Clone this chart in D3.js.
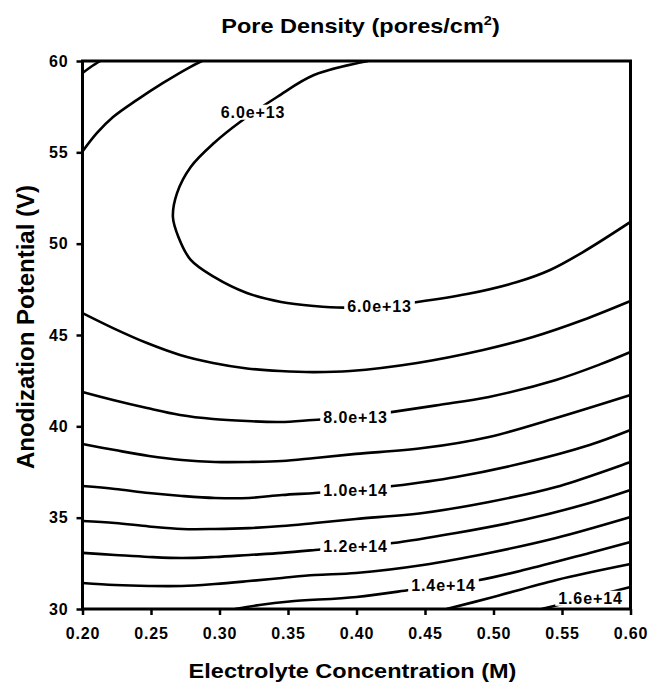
<!DOCTYPE html>
<html lang="en">
<head>
<meta charset="UTF-8">
<title>Pore Density</title>
<script src="https://cdn.jsdelivr.net/npm/d3@7"></script>
<style>
	body { margin: 0; background: #fff; }
	text { font-family: "Liberation Sans", Arial, sans-serif; font-weight: bold; fill: #000; }
</style>
</head>
<body>
<svg id="chart" width="650" height="683"></svg>
<script>
// axis ticks
const xTicks = [0.20, 0.25, 0.30, 0.35, 0.40, 0.45, 0.50, 0.55, 0.60];
const yTicks = [30, 35, 40, 45, 50, 55, 60];

// contour lines: [concentration (M), potential (V)]
const c40e12 = [[0.2, 59.34], [0.206, 59.67], [0.213, 60]];
const c50e12 = [[0.2, 55.05], [0.2106, 56.06], [0.2223, 56.93], [0.2398, 57.87], [0.2588, 58.80], [0.2785, 59.67], [0.2872, 60]];
const c60e12 = [[0.4085, 60], [0.369, 59.23], [0.342, 58.03], [0.315, 56.66], [0.296, 55.51], [0.279, 54.20], [0.269, 52.77],
	[0.266, 51.46], [0.270, 50.37], [0.279, 49.11], [0.296, 48.18], [0.320, 47.30], [0.345, 46.81], [0.369, 46.59],
	[0.391, 46.50], [0.418, 46.58], [0.4445, 46.81], [0.4807, 47.24], [0.5172, 47.90], [0.5413, 48.56], [0.5653, 49.54], [0.6, 51.19]];
const c70e12 = [[0.2, 46.20], [0.2223, 45.38], [0.2471, 44.56], [0.2712, 43.91], [0.2953, 43.47], [0.3201, 43.17], [0.3442, 43.03],
	[0.3683, 42.97], [0.3953, 43.03], [0.4442, 43.47], [0.4924, 44.18], [0.5288, 44.89], [0.5653, 45.82], [0.6, 46.86]];
const c80e12 = [[0.2, 41.88], [0.2223, 41.44], [0.2471, 41.00], [0.2712, 40.62], [0.2953, 40.40], [0.3201, 40.29], [0.3442, 40.24],
	[0.3683, 40.35], [0.399, 40.51], [0.4266, 40.79], [0.4602, 41.17], [0.4967, 41.61], [0.5456, 42.54], [0.5777, 43.39], [0.6, 44.07]];
const c90e12 = [[0.2, 39.03], [0.2237, 38.70], [0.2485, 38.38], [0.2726, 38.16], [0.2967, 38.05], [0.3215, 38.05], [0.3456, 38.10],
	[0.3697, 38.27], [0.3996, 38.49], [0.4485, 38.81], [0.4967, 39.42], [0.5456, 40.46], [0.6, 41.72]];
const c100e12 = [[0.2, 36.73], [0.2237, 36.57], [0.2485, 36.35], [0.2726, 36.19], [0.2967, 36.08], [0.3215, 36.08], [0.3456, 36.24],
	[0.3697, 36.35], [0.3993, 36.51], [0.4266, 36.73], [0.4726, 37.23], [0.5215, 37.99], [0.5701, 38.98], [0.6, 39.80]];
const c110e12 = [[0.2, 34.82], [0.2237, 34.71], [0.2485, 34.52], [0.2726, 34.38], [0.2967, 34.38], [0.3215, 34.43], [0.3456, 34.54],
	[0.3697, 34.71], [0.3996, 34.93], [0.4485, 35.26], [0.4967, 35.86], [0.5456, 36.68], [0.6, 38.05]];
const c120e12 = [[0.2, 33.07], [0.2237, 32.96], [0.2485, 32.85], [0.2726, 32.79], [0.2967, 32.85], [0.3215, 32.96], [0.3456, 33.07],
	[0.3697, 33.23], [0.3993, 33.45], [0.4266, 33.61], [0.4726, 34.16], [0.5215, 34.87], [0.5701, 35.80], [0.6, 36.51]];
const c130e12 = [[0.2, 31.42], [0.2237, 31.31], [0.2485, 31.26], [0.2726, 31.26], [0.2967, 31.37], [0.3215, 31.53], [0.3456, 31.70],
	[0.3697, 31.86], [0.3996, 31.97], [0.4485, 32.41], [0.4967, 33.07], [0.5456, 33.89], [0.6, 35.04]];
const c140e12 = [[0.3113, 30.0], [0.3292, 30.22], [0.3511, 30.41], [0.4000, 30.66], [0.4387, 31.04], [0.4635, 31.31],
	[0.4898, 31.59], [0.5219, 32.13], [0.5701, 33.07], [0.6, 33.67]];
const c150e12 = [[0.4657, 30.0], [0.4971, 30.60], [0.5460, 31.59], [0.6, 32.46]];
const c160e12 = [[0.535, 30.0], [0.567, 30.58], [0.6, 31.2]];

const contourLines = [c40e12, c50e12, c60e12, c70e12, c80e12, c90e12, c100e12, c110e12, c120e12, c130e12, c140e12, c150e12, c160e12];

// inline level labels
const labelText = ["6.0e+13", "6.0e+13", "8.0e+13", "1.0e+14", "1.2e+14", "1.4e+14", "1.6e+14"];
const labelX = [0.3245, 0.4168, 0.3993, 0.3993, 0.3993, 0.4635, 0.5708];
const labelY = [57.21, 46.59, 40.51, 36.51, 33.45, 31.31, 30.60];

const plotLeft = 82.5, plotTop = 61, plotW = 548, plotH = 548;
const stretch = 1.12; // the original lettering is a little wide

const svg = d3.select("#chart");
const x = d3.scaleLinear().domain([0.2, 0.6]).range([plotLeft, plotLeft + plotW]);
const y = d3.scaleLinear().domain([30, 60]).range([plotTop + plotH, plotTop]);

svg.append("clipPath").attr("id", "plotClip")
	.append("rect").attr("x", plotLeft).attr("y", plotTop).attr("width", plotW).attr("height", plotH);

const line = d3.line()
	.x(d => x(d[0]))
	.y(d => y(d[1]))
	.curve(d3.curveCatmullRom.alpha(0.5));

const plot = svg.append("g").attr("clip-path", "url(#plotClip)");
plot.selectAll("path.contour")
	.data(contourLines)
	.join("path")
	.attr("class", "contour")
	.attr("d", line)
	.attr("fill", "none")
	.attr("stroke", "#000")
	.attr("stroke-width", 2.6)
	.attr("stroke-linejoin", "round");

// labels sit on a white patch so the line looks broken
const labels = plot.selectAll("g.lab")
	.data(labelText)
	.join("g")
	.attr("class", "lab")
	.attr("transform", (d, i) => `translate(${x(labelX[i])},${y(labelY[i])})`);
labels.append("rect").attr("fill", "#fff");
labels.append("text")
	.attr("text-anchor", "middle")
	.attr("dy", "0.36em")
	.style("font-size", "16px")
	.style("letter-spacing", "0.9px")
	.text(d => d);
labels.each(function () {
	const b = d3.select(this).select("text").node().getBBox();
	d3.select(this).select("rect")
		.attr("x", b.x - 3).attr("y", b.y + 1)
		.attr("width", b.width + 6).attr("height", b.height - 2);
});

// axes
const xAxis = svg.append("g")
	.attr("transform", `translate(0,${plotTop + plotH})`)
	.call(d3.axisBottom(x).tickValues(xTicks).tickFormat(d3.format(".2f")).tickSizeInner(6).tickSizeOuter(0).tickPadding(13));
const yAxis = svg.append("g")
	.attr("transform", `translate(${plotLeft},0)`)
	.call(d3.axisLeft(y).tickValues(yTicks).tickSizeInner(6).tickSizeOuter(0).tickPadding(8));

[xAxis, yAxis].forEach(g => {
	g.select(".domain").remove();
	g.selectAll(".tick line").attr("stroke", "#000").attr("stroke-width", 2.5);
	g.selectAll(".tick text")
		.style("font-size", "16px")
		.style("letter-spacing", "0.9px")
		.style("font-family", "'Liberation Sans', Arial, sans-serif")
		.style("font-weight", "bold");
});

svg.append("rect")
	.attr("x", plotLeft).attr("y", plotTop).attr("width", plotW).attr("height", plotH)
	.attr("fill", "none").attr("stroke", "#000").attr("stroke-width", 3);

// titles
const title = svg.append("text")
	.attr("transform", `translate(${plotLeft + plotW / 2 + 4},33) scale(${stretch},1)`)
	.attr("text-anchor", "middle")
	.style("font-size", "21px");
title.append("tspan").text("Pore Density (pores/cm");
title.append("tspan").attr("dy", -8).style("font-size", "13px").text("2");
title.append("tspan").attr("dy", 8).text(")");

svg.append("text")
	.attr("transform", `translate(${plotLeft + plotW / 2 - 4},678) scale(${stretch},1)`)
	.attr("text-anchor", "middle")
	.style("font-size", "21px")
	.text("Electrolyte Concentration (M)");

svg.append("text")
	.attr("transform", `translate(34,${plotTop + plotH / 2 - 8}) rotate(-90)`)
	.attr("text-anchor", "middle")
	.style("font-size", "24px")
	.text("Anodization Potential (V)");
</script>
</body>
</html>
